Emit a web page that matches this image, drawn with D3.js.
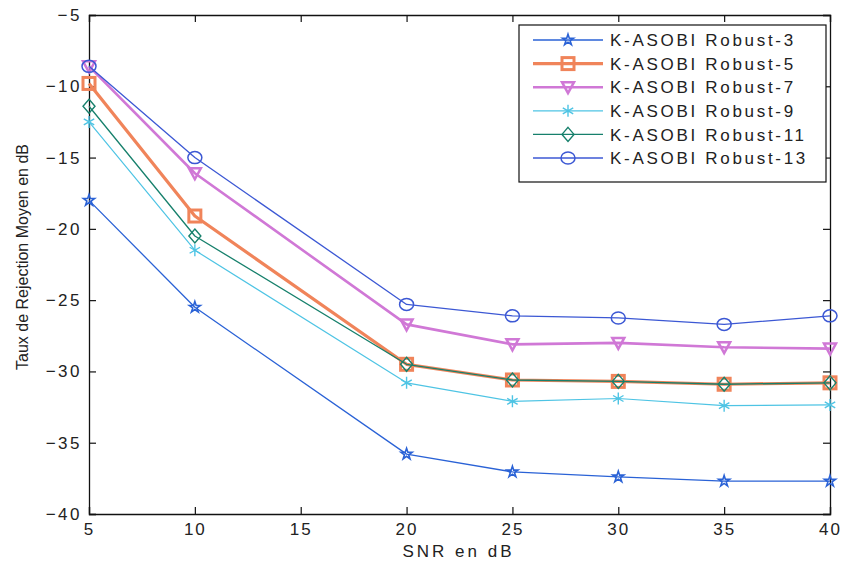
<!DOCTYPE html>
<html>
<head>
<meta charset="utf-8">
<script src="https://cdn.jsdelivr.net/npm/d3@7"></script>
<style>
  body { margin: 0; background: #fff; }
  svg text { font-family: "Liberation Sans", Arial, sans-serif; fill: #222; }
</style>
</head>
<body>
<svg id="chart" width="842" height="563"></svg>
<script>
// SNR values (no measurement at 15 dB)
const snr = [5, 10, 20, 25, 30, 35, 40];

const robust3 = [-18.0, -25.5, -35.8, -37.05, -37.4, -37.7, -37.7];
const robust5 = [-9.8, -19.1, -29.5, -30.6, -30.7, -30.9, -30.8];
const robust7 = [-8.6, -16.1, -26.7, -28.1, -28.0, -28.3, -28.4];
const robust9 = [-12.5, -21.5, -30.8, -32.1, -31.9, -32.4, -32.35];
const robust11 = [-11.4, -20.5, -29.5, -30.6, -30.7, -30.9, -30.8];
const robust13 = [-8.6, -15.0, -25.3, -26.1, -26.25, -26.7, -26.1];

const seriesNames = ['K-ASOBI Robust-3', 'K-ASOBI Robust-5', 'K-ASOBI Robust-7',
    'K-ASOBI Robust-9', 'K-ASOBI Robust-11', 'K-ASOBI Robust-13'];
const xTicks = [5, 10, 15, 20, 25, 30, 35, 40];
const yTicks = [-5, -10, -15, -20, -25, -30, -35, -40];

const styles = [
    { color: '#2a62d6', width: 1.3, marker: 'star' },
    { color: '#f0845a', width: 3.2, marker: 'square' },
    { color: '#d078d6', width: 2.6, marker: 'triangle' },
    { color: '#4ec4e4', width: 1.2, marker: 'asterisk' },
    { color: '#17806c', width: 1.3, marker: 'diamond' },
    { color: '#3c58d4', width: 1.3, marker: 'circle' },
];

const series = [robust3, robust5, robust7, robust9, robust11, robust13].map((vals, i) => ({
    name: seriesNames[i],
    style: styles[i],
    points: vals.map((v, j) => ({ x: snr[j], y: v })),
}));

const margin = { left: 89, right: 12, top: 15, bottom: 49 };
const W = 842, H = 563;
const svg = d3.select('#chart');

const x = d3.scaleLinear().domain([5, 40]).range([margin.left, W - margin.right]);
const y = d3.scaleLinear().domain([-40, -5]).range([H - margin.bottom, margin.top]);

const plotW = W - margin.right - margin.left;

// axes with inward ticks, mirrored on top and right
const tickLen = 7;
const axB = svg.append('g').attr('transform', `translate(0,${y(-40)})`)
    .call(d3.axisBottom(x).tickValues(xTicks).tickSize(-tickLen).tickPadding(9));
const axT = svg.append('g').attr('transform', `translate(0,${y(-5)})`)
    .call(d3.axisTop(x).tickValues(xTicks).tickSize(-tickLen).tickFormat(''));
const axL = svg.append('g').attr('transform', `translate(${x(5)},0)`)
    .call(d3.axisLeft(y).tickValues(yTicks).tickSize(-tickLen).tickPadding(7));
const axR = svg.append('g').attr('transform', `translate(${x(40)},0)`)
    .call(d3.axisRight(y).tickValues(yTicks).tickSize(-tickLen).tickFormat(''));

[axB, axT, axL, axR].forEach(a => {
    a.select('.domain').attr('stroke', '#111').attr('stroke-width', 1.3);
    a.selectAll('.tick line').attr('stroke', '#111').attr('stroke-width', 1.2);
    a.selectAll('.tick text').style('font-size', '17px').style('letter-spacing', '2.5px').attr('fill', '#222');
});
axB.selectAll('.tick text').attr('dy', '0.71em').style('letter-spacing', '2px');

// axis titles
svg.append('text')
    .attr('x', margin.left + plotW / 2 - 1)
    .attr('y', 557)
    .attr('text-anchor', 'middle')
    .style('font-size', '17px')
    .style('letter-spacing', '3px')
    .text('SNR en dB');

svg.append('text')
    .attr('transform', 'translate(28,257) rotate(-90)')
    .attr('text-anchor', 'middle')
    .style('font-size', '16px')
    .text('Taux de Rejection Moyen en dB');

// marker drawing
function drawMarker(g, type, color) {
    const s = 6;
    if (type === 'star') {
        g.append('path').attr('d', d3.symbol(d3.symbolStar, 38)())
            .attr('fill', 'none').attr('stroke', color).attr('stroke-width', 1.6);
    } else if (type === 'square') {
        g.append('rect').attr('x', -s).attr('y', -s).attr('width', 2 * s).attr('height', 2 * s)
            .attr('fill', 'none').attr('stroke', color).attr('stroke-width', 3);
    } else if (type === 'triangle') {
        g.append('path').attr('d', `M${-s},${-s + 1}L${s},${-s + 1}L0,${s}Z`)
            .attr('fill', 'none').attr('stroke', color).attr('stroke-width', 2.5);
    } else if (type === 'asterisk') {
        const r = 6;
        g.append('path')
            .attr('d', `M0,${-r}V${r}M${-r * 0.87},${-r / 2}L${r * 0.87},${r / 2}M${-r * 0.87},${r / 2}L${r * 0.87},${-r / 2}`)
            .attr('stroke', color).attr('stroke-width', 1.4);
    } else if (type === 'diamond') {
        g.append('path').attr('d', `M0,${-s - 1}L${s},0L0,${s + 1}L${-s},0Z`)
            .attr('fill', 'none').attr('stroke', color).attr('stroke-width', 1.4);
    } else if (type === 'circle') {
        g.append('ellipse').attr('rx', s + 1).attr('ry', s)
            .attr('fill', 'none').attr('stroke', color).attr('stroke-width', 1.5);
    }
}

const line = d3.line().x(d => x(d.x)).y(d => y(d.y));
const plot = svg.append('g');

series.forEach(s => {
    plot.append('path')
        .datum(s.points)
        .attr('d', line)
        .attr('fill', 'none')
        .attr('stroke', s.style.color)
        .attr('stroke-width', s.style.width)
        .attr('stroke-linejoin', 'round');
    plot.selectAll(null)
        .data(s.points)
        .enter()
        .append('g')
        .attr('transform', d => `translate(${x(d.x)},${y(d.y)})`)
        .each(function () { drawMarker(d3.select(this), s.style.marker, s.style.color); });
});

// legend
const lg = svg.append('g').attr('transform', 'translate(519,25)');
lg.append('rect').attr('width', 307).attr('height', 157)
    .attr('fill', '#fff').attr('stroke', '#111').attr('stroke-width', 1.2);
series.forEach((s, i) => {
    const row = lg.append('g').attr('transform', `translate(0,${15 + i * 23.6})`);
    row.append('line').attr('x1', 14).attr('x2', 84)
        .attr('stroke', s.style.color).attr('stroke-width', s.style.width);
    const m = row.append('g').attr('transform', 'translate(49,0)');
    drawMarker(m, s.style.marker, s.style.color);
    row.append('text').attr('x', 91).attr('y', 0).attr('dy', '0.36em')
        .style('font-size', '17px').style('letter-spacing', '2.7px').text(s.name);
});
</script>
</body>
</html>
